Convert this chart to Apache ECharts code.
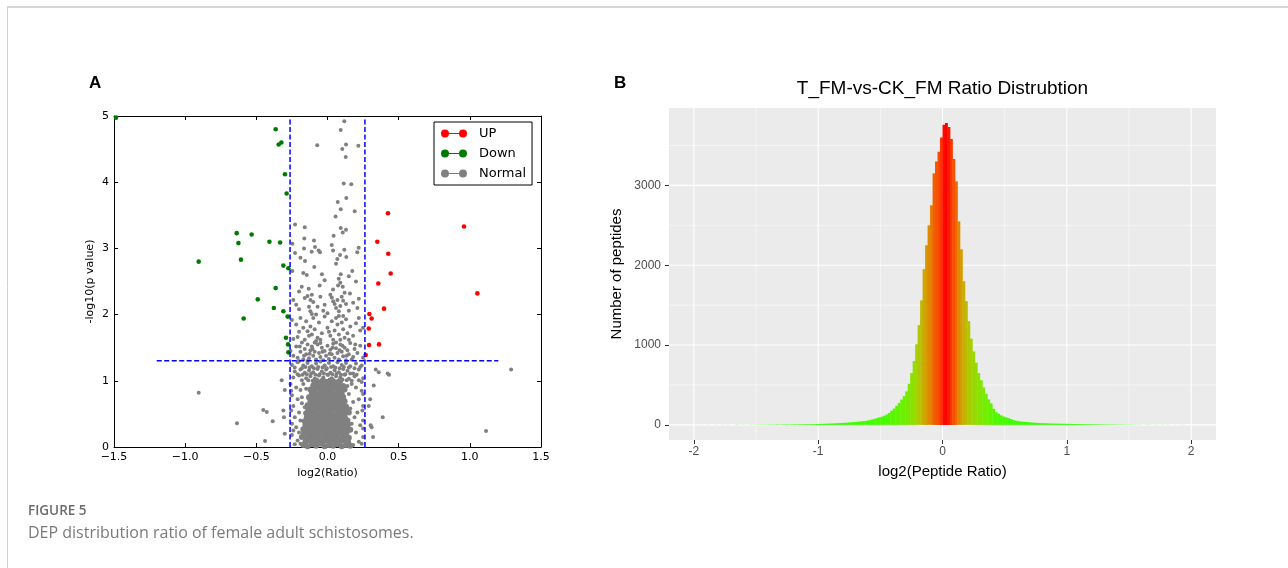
<!DOCTYPE html>
<html>
<head>
<meta charset="utf-8">
<title>Figure 5</title>
<script src="https://cdn.jsdelivr.net/npm/echarts@6/dist/echarts.min.js"></script>
<style>
  html, body { margin: 0; padding: 0; background: #fff; }
  #chart { width: 1288px; height: 568px; }
</style>
</head>
<body>
<div id="chart"></div>
<script>
// ---- panel A: volcano plot ----
var upPoints = [[0.425,3.53],[0.959,3.33],[0.35,3.10],[0.427,2.92],[0.444,2.62],[0.357,2.47],[1.053,2.32],
  [0.397,2.09],[0.294,2.01],[0.31,1.94],[0.29,1.79],[0.292,1.54],[0.362,1.55],[0.268,1.39]];

var downPoints = [[-1.486,4.975],[-0.364,4.80],[-0.343,4.57],[-0.324,4.60],[-0.299,4.12],[-0.287,3.83],
  [-0.638,3.23],[-0.533,3.21],[-0.626,3.08],[-0.408,3.10],[-0.333,3.09],[-0.905,2.80],[-0.608,2.83],
  [-0.31,2.74],[-0.275,2.70],[-0.364,2.40],[-0.49,2.23],[-0.377,2.10],[-0.31,2.05],[-0.28,1.97],
  [-0.589,1.94],[-0.292,1.65],[-0.277,1.55],[-0.275,1.43]];

// scattered grey points outside the cut-off lines
var normalSparse = [[-0.905,0.82],[-0.636,0.36],[-0.451,0.56],[-0.427,0.53],[-0.385,0.39],[-0.439,0.09],
  [-0.322,1.01],[1.29,1.17],[1.114,0.24],[0.388,0.45],[0.339,1.17],[0.36,1.13],[0.423,1.11],[0.432,1.09],
  [0.325,0.93],[0.303,0.33],[0.31,0.30],[-0.31,0.55],[-0.306,0.45],[-0.30,0.20],[0.30,0.72],[0.29,0.62],
  [0.32,0.15],[-0.30,0.86]];

// grey points above y = 2.3
var normalUpper = [[0.118,4.92],[0.093,4.79],[-0.072,4.56],[0.13,4.57],[0.104,4.50],[0.217,4.55],[0.128,4.38],
  [0.114,3.98],[0.167,3.97],[0.132,3.76],[0.072,3.70],[0.093,3.59],[0.191,3.56],[0.057,3.48],[-0.228,3.36],
  [-0.16,3.32],[0.093,3.31],[0.13,3.28],[0.043,3.19],[0.107,3.24],[-0.163,3.15],[-0.095,3.12],[-0.247,3.07],
  [-0.165,3.00],[-0.088,3.02],[-0.228,2.93],[-0.111,2.95],[-0.053,2.94],[-0.062,2.97],[0.039,2.97],
  [0.118,2.98],[0.132,2.87],[0.219,3.01],[0.209,2.94],[0.088,2.90],[0.069,2.84],[0.06,2.77],[-0.158,2.81],
  [-0.093,2.72],[0.174,2.66],[-0.17,2.63],[-0.146,2.60],[-0.039,2.61],[0.093,2.61],[0.079,2.54],[0.09,2.48],
  [0.074,2.44],[-0.181,2.42],[-0.132,2.39],[-0.055,2.44],[0.039,2.38],[0.107,2.42],[0.158,2.32],[-0.2,2.35],
  [-0.11,2.30],[0.02,2.30],[0.12,2.33],[-0.247,2.66],[0.2,2.5],[-0.02,2.52],[0.15,2.58],[0.03,3.05],[-0.19,2.86]];

// grey points between y = 1.0 and 2.3
var normalMiddle = [[-0.24,2.22],[-0.14,2.28],[-0.16,2.25],[-0.12,2.22],[-0.10,2.19],[-0.05,2.27],[-0.13,2.12],
  [-0.12,2.05],[-0.11,2.01],[-0.08,2.00],[-0.20,2.08],[-0.02,2.15],[0.03,2.26],[0.04,2.20],[0.05,2.16],
  [0.07,2.22],[0.06,2.10],[0.09,2.13],[0.10,2.27],[0.11,2.21],[0.13,2.16],[0.08,2.05],[0.15,2.06],[0.22,2.24],
  [0.21,2.10],[-0.22,2.15],[-0.03,2.06],[0.00,2.02],[0.18,2.18],[-0.07,2.12],
  [-0.25,1.92],[-0.22,1.85],[-0.19,1.95],[-0.17,1.80],[-0.15,1.90],[-0.14,1.75],[-0.12,1.82],[-0.11,1.70],
  [-0.10,1.95],[-0.09,1.78],[-0.07,1.65],[-0.06,1.88],[-0.04,1.72],[-0.02,1.97],[0.00,1.80],[0.02,1.68],
  [0.03,1.90],[0.05,1.76],[0.06,1.95],[0.07,1.85],[0.08,1.70],[0.09,1.62],[0.10,1.88],[0.11,1.78],[0.12,1.65],
  [0.13,1.93],[0.14,1.72],[0.16,1.82],[0.18,1.68],[0.20,1.87],[0.23,1.76],[0.25,1.80],[-0.21,1.66],[-0.16,1.62],
  [-0.13,1.68],[-0.08,1.60],[0.04,1.62],[0.08,1.98],[-0.20,1.74],[0.15,1.62],[-0.24,1.63],[0.22,1.95],
  [0.01,1.74],[-0.05,1.62],[0.11,1.98],
  [-0.26,1.45],[-0.24,1.38],[-0.22,1.52],[-0.21,1.35],[-0.19,1.44],[-0.18,1.58],[-0.17,1.32],[-0.16,1.48],
  [-0.15,1.40],[-0.14,1.55],[-0.13,1.34],[-0.12,1.46],[-0.11,1.52],[-0.10,1.38],[-0.09,1.44],[-0.08,1.32],
  [-0.07,1.55],[-0.06,1.42],[-0.05,1.36],[-0.04,1.50],[-0.03,1.31],[-0.02,1.45],[-0.01,1.38],[0.00,1.53],
  [0.01,1.33],[0.02,1.47],[0.03,1.40],[0.04,1.56],[0.05,1.35],[0.06,1.49],[0.07,1.42],[0.08,1.32],[0.09,1.55],
  [0.10,1.44],[0.11,1.37],[0.12,1.50],[0.13,1.31],[0.14,1.46],[0.15,1.40],[0.16,1.57],[0.18,1.36],[0.19,1.48],
  [0.21,1.42],[0.23,1.53],[0.25,1.35],[-0.20,1.30],[0.06,1.58],[-0.09,1.58],[0.17,1.32],[-0.14,1.30],
  [-0.195,1.52],[-0.105,1.48],[-0.035,1.44],[0.035,1.50],[0.085,1.46],[0.135,1.38],[-0.165,1.38],[0.195,1.55],
  [-0.05,1.57],[0.015,1.41],[0.105,1.53],[-0.125,1.41],
  [-0.25,1.24],[-0.21,1.28],[-0.17,1.23],[-0.14,1.27],[-0.11,1.22],[-0.08,1.26],[-0.05,1.29],[-0.02,1.23],
  [0.01,1.27],[0.04,1.22],[0.07,1.28],[0.10,1.24],[0.13,1.27],[0.16,1.22],[0.20,1.26],[0.24,1.23],
  [-0.23,1.20],[-0.18,1.19],[-0.155,1.21],[-0.125,1.20],[-0.095,1.19],[-0.065,1.21],[-0.035,1.20],[-0.005,1.19],
  [0.025,1.21],[0.055,1.20],[0.085,1.19],[0.115,1.21],[0.15,1.20],[0.19,1.19],[0.23,1.21],
  [-0.23,1.14],[-0.19,1.17],[-0.16,1.12],[-0.13,1.16],[-0.10,1.13],[-0.07,1.18],[-0.04,1.14],[-0.01,1.17],
  [0.02,1.12],[0.05,1.16],[0.08,1.13],[0.11,1.18],[0.14,1.15],[0.18,1.11],[0.22,1.17],
  [-0.21,1.10],[-0.175,1.09],[-0.145,1.10],[-0.115,1.11],[-0.085,1.09],[-0.055,1.10],[-0.025,1.11],[0.005,1.09],
  [0.035,1.10],[0.065,1.11],[0.095,1.09],[0.125,1.10],[0.16,1.11],[0.205,1.09],
  [-0.24,1.05],[-0.20,1.08],[-0.15,1.04],[-0.12,1.07],[-0.09,1.03],[-0.06,1.08],[-0.03,1.05],[0.00,1.09],
  [0.03,1.04],[0.06,1.07],[0.09,1.05],[0.12,1.09],[0.15,1.03],[0.19,1.07],[0.25,1.04],
  [-0.18,1.01],[-0.135,1.01],[-0.105,1.00],[-0.075,1.02],[-0.045,1.01],[-0.015,1.00],[0.015,1.02],[0.045,1.01],
  [0.075,1.00],[0.105,1.02],[0.135,1.01],[0.17,1.00],[0.22,1.01]];

// dense grey mass below y = 1
var normalCore = [
  [-0.17,0.03],[-0.14,0.01],[-0.11,0.04],[-0.08,0.02],[-0.05,0.05],[-0.02,0.01],[0.01,0.03],[0.04,0.02],[0.07,0.04],[0.10,0.01],[0.13,0.03],[0.16,0.02],
  [-0.155,0.08],[-0.125,0.10],[-0.095,0.07],[-0.065,0.09],[-0.035,0.08],[-0.005,0.10],[0.025,0.07],[0.055,0.09],[0.085,0.08],[0.115,0.10],[0.145,0.07],
  [-0.18,0.15],[-0.15,0.13],[-0.12,0.16],[-0.09,0.14],[-0.06,0.15],[-0.03,0.13],[0.00,0.16],[0.03,0.14],[0.06,0.15],[0.09,0.13],[0.12,0.16],[0.15,0.14],
  [-0.165,0.21],[-0.135,0.19],[-0.105,0.22],[-0.075,0.20],[-0.045,0.21],[-0.015,0.19],[0.015,0.22],[0.045,0.20],[0.075,0.21],[0.105,0.19],[0.135,0.22],
  [-0.17,0.27],[-0.14,0.25],[-0.11,0.28],[-0.08,0.26],[-0.05,0.27],[-0.02,0.25],[0.01,0.28],[0.04,0.26],[0.07,0.27],[0.10,0.25],[0.13,0.28],[0.16,0.26],
  [-0.155,0.33],[-0.125,0.31],[-0.095,0.34],[-0.065,0.32],[-0.035,0.33],[-0.005,0.31],[0.025,0.34],[0.055,0.32],[0.085,0.33],[0.115,0.31],[0.145,0.34],
  [-0.16,0.39],[-0.13,0.37],[-0.10,0.40],[-0.07,0.38],[-0.04,0.39],[-0.01,0.37],[0.02,0.40],[0.05,0.38],[0.08,0.39],[0.11,0.37],[0.14,0.40],
  [-0.145,0.45],[-0.115,0.43],[-0.085,0.46],[-0.055,0.44],[-0.025,0.45],[0.005,0.43],[0.035,0.46],[0.065,0.44],[0.095,0.45],[0.125,0.43],
  [-0.15,0.51],[-0.12,0.49],[-0.09,0.52],[-0.06,0.50],[-0.03,0.51],[0.00,0.49],[0.03,0.52],[0.06,0.50],[0.09,0.51],[0.12,0.49],[0.15,0.52],
  [-0.135,0.57],[-0.105,0.55],[-0.075,0.58],[-0.045,0.56],[-0.015,0.57],[0.015,0.55],[0.045,0.58],[0.075,0.56],[0.105,0.57],[0.135,0.55],
  [-0.14,0.63],[-0.11,0.61],[-0.08,0.64],[-0.05,0.62],[-0.02,0.63],[0.01,0.61],[0.04,0.64],[0.07,0.62],[0.10,0.63],[0.13,0.61],
  [-0.12,0.69],[-0.09,0.67],[-0.06,0.70],[-0.03,0.68],[0.00,0.69],[0.03,0.67],[0.06,0.70],[0.09,0.68],[0.12,0.69],
  [-0.13,0.75],[-0.10,0.73],[-0.07,0.76],[-0.04,0.74],[-0.01,0.75],[0.02,0.73],[0.05,0.76],[0.08,0.74],[0.11,0.75],
  [-0.11,0.81],[-0.08,0.79],[-0.05,0.82],[-0.02,0.80],[0.01,0.81],[0.04,0.79],[0.07,0.82],[0.10,0.80],
  [-0.12,0.87],[-0.09,0.85],[-0.06,0.88],[-0.03,0.86],[0.00,0.87],[0.03,0.85],[0.06,0.88],[0.09,0.86],[0.12,0.87],
  [-0.10,0.93],[-0.07,0.91],[-0.04,0.94],[-0.01,0.92],[0.02,0.93],[0.05,0.91],[0.08,0.94],[0.11,0.92],
  [-0.09,0.99],[-0.06,0.97],[-0.03,1.00],[0.00,0.98],[0.03,0.99],[0.06,0.97],[0.09,1.00]];

// grey points at the edge of the mass, inside the lines
var normalFringe = [[-0.26,0.95],[-0.22,0.90],[-0.19,0.86],[-0.25,0.78],[-0.21,0.72],[-0.18,0.66],[-0.24,0.62],
  [-0.255,0.55],[-0.20,0.52],[-0.23,0.45],[-0.19,0.40],[-0.25,0.35],[-0.22,0.30],[-0.20,0.22],[-0.25,0.18],
  [-0.21,0.10],[-0.23,0.04],[-0.18,0.75],[-0.17,0.95],[-0.15,0.88],[-0.16,0.60],[-0.19,0.05],[-0.24,0.25],
  [-0.255,0.85],[0.17,0.95],[0.20,0.90],[0.24,0.85],[0.25,0.80],[0.22,0.72],[0.18,0.68],[0.25,0.62],
  [0.245,0.55],[0.21,0.52],[0.19,0.45],[0.25,0.40],[0.23,0.33],[0.25,0.28],[0.20,0.22],[0.25,0.15],[0.22,0.08],
  [0.18,0.03],[0.24,0.05],[0.15,0.80],[0.16,0.58],[0.17,0.35],[0.14,0.92],[0.24,0.98]];

var normalPoints = normalSparse.concat(normalUpper, normalMiddle, normalFringe);

// cut-off lines: |log2 ratio| = log2(1.2), p = 0.05
var cutLeft = [[-0.263, 0], [-0.263, 4.95]];
var cutRight = [[0.263, 0], [0.263, 4.95]];
var cutP = [[-1.2, 1.301], [1.2, 1.301]];

// ---- panel B: histogram of log2(peptide ratio), bins of 0.02 from -2 ----
var binStart = -2.0;
var binWidth = 0.02;
var peptideCounts = [
  1,0,1,0,0,1,0,0,1,0, 0,1,0,1,0,0,1,2,0,1, 1,0,2,1,2,
  2,3,2,3,3,4,3,4,5,4, 5,5,6,5,6,7,6,8,7,8, 9,8,10,9,11,
  12,13,14,15,16,18,19,20,22,24, 25,28,30,33,36,39,42,45,48,52,
  58,66,75,84,94,102,115,130,150,178, 205,240,275,318,360,420,515,650,800,1010,
  1250,1560,1950,2250,2500,2750,3150,3300,3420,3600,
  3760,3780,3730,3580,3330,3050,2550,2200,1800,1550,
  1300,1080,920,780,650,560,470,390,320,270, 200,160,140,120,105,95,85,72,60,52,
  46,42,40,37,34,31,28,26,24,22, 21,20,19,18,17,16,15,15,14,14,
  13,12,11,11,10,10,9,9,8,8, 8,7,7,6,6,5,5,4,5,4, 3,4,3,3,2,
  3,2,2,1,2,0,1,2,1,0, 1,1,0,2,0,1,0,0,1,0, 0,1,0,0,0];

var bTicksX = [-2, -1, 0, 1, 2];
var bTicksY = [0, 1000, 2000, 3000];
var bMinorX = [-1.5, -0.5, 0.5, 1.5];
var bMinorY = [500, 1500, 2500, 3500];
var bXMin = -2.2, bXMax = 2.2, bYMin = -189, bYMax = 3969;

// green -> red gradient interpolated in Lab, like ggplot's scale_fill_gradient
function toLinear(c) { c = c / 255; return c <= 0.04045 ? c / 12.92 : Math.pow((c + 0.055) / 1.055, 2.4); }
function toByte(c) { c = c <= 0.0031308 ? 12.92 * c : 1.055 * Math.pow(c, 1 / 2.4) - 0.055; return Math.max(0, Math.min(255, Math.round(c * 255))); }
function hexToLab(hex) {
  var r = toLinear(parseInt(hex.substr(1, 2), 16)), g = toLinear(parseInt(hex.substr(3, 2), 16)), b = toLinear(parseInt(hex.substr(5, 2), 16));
  var X = (0.4124 * r + 0.3576 * g + 0.1805 * b) / 0.95047;
  var Y = 0.2126 * r + 0.7152 * g + 0.0722 * b;
  var Z = (0.0193 * r + 0.1192 * g + 0.9505 * b) / 1.08883;
  var f = function (t) { return t > 0.008856 ? Math.cbrt(t) : 7.787 * t + 16 / 116; };
  return [116 * f(Y) - 16, 500 * (f(X) - f(Y)), 200 * (f(Y) - f(Z))];
}
function labToHex(lab) {
  var fy = (lab[0] + 16) / 116, fx = fy + lab[1] / 500, fz = fy - lab[2] / 200;
  var inv = function (t) { return t > 0.206893 ? t * t * t : (t - 16 / 116) / 7.787; };
  var X = inv(fx) * 0.95047, Y = inv(fy), Z = inv(fz) * 1.08883;
  var r = 3.2406 * X - 1.5372 * Y - 0.4986 * Z;
  var g = -0.9689 * X + 1.8758 * Y + 0.0415 * Z;
  var b = 0.0557 * X - 0.2040 * Y + 1.0570 * Z;
  return 'rgb(' + toByte(r) + ',' + toByte(g) + ',' + toByte(b) + ')';
}
var lowLab = hexToLab('#30FF00'), highLab = hexToLab('#FF0000');
var maxCount = Math.max.apply(null, peptideCounts);
function countColor(c) {
  var t = c / maxCount;
  return labToHex([0, 1, 2].map(function (k) { return lowLab[k] + (highLab[k] - lowLab[k]) * t; }));
}

var histData = peptideCounts.map(function (c, i) {
  return [binStart + i * binWidth, binStart + (i + 1) * binWidth, c];
});
var vGrid = bTicksX.map(function (v) { return [v, 1.1]; }).concat(bMinorX.map(function (v) { return [v, 0.55]; }));
var hGrid = bTicksY.map(function (v) { return [v, 1.1]; }).concat(bMinorY.map(function (v) { return [v, 0.55]; }));

var chart = echarts.init(document.getElementById('chart'));

var mplFont = 'DejaVu Sans';
var ggFont = 'Liberation Sans';
var mplTick = { show: true, inside: true, length: 4, lineStyle: { color: '#000', width: 1 } };
var mplLine = { show: true, onZero: false, lineStyle: { color: '#000', width: 1 } };

var option = {
  animation: false,
  backgroundColor: '#fff',
  grid: [
    { left: 114, top: 116, width: 427, height: 331, containLabel: false, show: false },
    { left: 669, top: 108, width: 547, height: 332, containLabel: false, show: true,
      backgroundColor: '#EBEBEB', borderWidth: 0 }
  ],
  xAxis: [
    { type: 'value', gridIndex: 0, position: 'bottom', min: -1.5, max: 1.5, interval: 0.5,
      axisLine: mplLine, axisTick: mplTick, splitLine: { show: false },
      axisLabel: { color: '#000', fontFamily: mplFont, fontSize: 11, margin: 5, showMinLabel: true, showMaxLabel: true,
        formatter: function (v) { return (v < 0 ? '\u2212' : '') + Math.abs(v).toFixed(1); } },
      name: 'log2(Ratio)', nameLocation: 'middle', nameGap: 20,
      nameTextStyle: { color: '#000', fontFamily: mplFont, fontSize: 11 } },
    { type: 'value', gridIndex: 0, position: 'top', min: -1.5, max: 1.5, interval: 0.5,
      axisLine: mplLine, axisTick: mplTick, axisLabel: { show: false }, splitLine: { show: false } },
    { type: 'value', gridIndex: 1, min: bXMin, max: bXMax,
      axisLine: { show: false, onZero: false },
      axisTick: { show: true, length: 4, lineStyle: { color: '#333', width: 1 }, customValues: bTicksX },
      axisLabel: { color: '#4D4D4D', fontFamily: ggFont, fontSize: 12, margin: 6, customValues: bTicksX,
        formatter: function (v) { return String(v); } },
      splitLine: { show: false },
      name: 'log2(Peptide Ratio)', nameLocation: 'middle', nameGap: 24,
      nameTextStyle: { color: '#000', fontFamily: ggFont, fontSize: 15 } }
  ],
  yAxis: [
    { type: 'value', gridIndex: 0, position: 'left', min: 0, max: 5, interval: 1,
      axisLine: mplLine, axisTick: mplTick, splitLine: { show: false },
      axisLabel: { color: '#000', fontFamily: mplFont, fontSize: 11, margin: 5, showMinLabel: true, showMaxLabel: true },
      name: '-log10(p value)', nameLocation: 'middle', nameGap: 18,
      nameTextStyle: { color: '#000', fontFamily: mplFont, fontSize: 11 } },
    { type: 'value', gridIndex: 0, position: 'right', min: 0, max: 5, interval: 1,
      axisLine: mplLine, axisTick: mplTick, axisLabel: { show: false }, splitLine: { show: false } },
    { type: 'value', gridIndex: 1, min: bYMin, max: bYMax,
      axisLine: { show: false, onZero: false },
      axisTick: { show: true, length: 4, lineStyle: { color: '#333', width: 1 }, customValues: bTicksY },
      axisLabel: { color: '#4D4D4D', fontFamily: ggFont, fontSize: 12, margin: 8, customValues: bTicksY,
        formatter: function (v) { return String(v); } },
      splitLine: { show: false },
      name: 'Number of peptides', nameLocation: 'middle', nameGap: 45,
      nameTextStyle: { color: '#000', fontFamily: ggFont, fontSize: 15 } }
  ],
  legend: {
    data: ['UP', 'Down', 'Normal'],
    orient: 'vertical',
    left: 434, top: 122,
    padding: [5, 6, 5, 7],
    itemGap: 7,
    itemWidth: 26, itemHeight: 8,
    icon: 'path://M0,4A4,4,0,1,1,8,4A4,4,0,1,1,0,4ZM18,4A4,4,0,1,1,26,4A4,4,0,1,1,18,4ZM4,3.5L22,3.5L22,4.5L4,4.5Z',
    backgroundColor: '#fff', borderColor: '#000', borderWidth: 1, borderRadius: 0,
    selectedMode: false,
    textStyle: { color: '#000', fontFamily: mplFont, fontSize: 13, lineHeight: 13, padding: [0, 0, 0, 7] }
  },
  series: [
    { name: 'Normal', type: 'scatter', xAxisIndex: 0, yAxisIndex: 0, data: normalPoints,
      symbolSize: 4, itemStyle: { color: '#808080', opacity: 1 }, silent: true, z: 2 },
    { name: 'Normal', type: 'scatter', xAxisIndex: 0, yAxisIndex: 0, data: normalCore,
      symbolSize: 6, itemStyle: { color: '#808080', opacity: 1 }, silent: true, z: 2 },
    { name: 'Down', type: 'scatter', xAxisIndex: 0, yAxisIndex: 0, data: downPoints,
      symbolSize: 4.6, itemStyle: { color: '#007A00', opacity: 1 }, silent: true, z: 3 },
    { name: 'UP', type: 'scatter', xAxisIndex: 0, yAxisIndex: 0, data: upPoints,
      symbolSize: 4.6, itemStyle: { color: '#FF0000', opacity: 1 }, silent: true, z: 3 },
    { type: 'line', xAxisIndex: 0, yAxisIndex: 0, data: cutLeft, symbol: 'none', silent: true, z: 4,
      lineStyle: { color: '#0000FF', width: 1.5, type: [5, 2.5] } },
    { type: 'line', xAxisIndex: 0, yAxisIndex: 0, data: cutRight, symbol: 'none', silent: true, z: 4,
      lineStyle: { color: '#0000FF', width: 1.5, type: [5, 2.5] } },
    { type: 'line', xAxisIndex: 0, yAxisIndex: 0, data: cutP, symbol: 'none', silent: true, z: 4,
      lineStyle: { color: '#0000FF', width: 1.5, type: [5, 2.5] } },
    // panel B grid lines
    { type: 'custom', xAxisIndex: 2, yAxisIndex: 2, data: vGrid, silent: true, z: 1,
      renderItem: function (params, api) {
        var v = api.value(0), w = api.value(1);
        var p0 = api.coord([v, bYMin]), p1 = api.coord([v, bYMax]);
        return { type: 'line', shape: { x1: p0[0], y1: p0[1], x2: p1[0], y2: p1[1] },
          style: { stroke: '#FFFFFF', lineWidth: w } };
      } },
    { type: 'custom', xAxisIndex: 2, yAxisIndex: 2, data: hGrid, silent: true, z: 1,
      renderItem: function (params, api) {
        var v = api.value(0), w = api.value(1);
        var p0 = api.coord([bXMin, v]), p1 = api.coord([bXMax, v]);
        return { type: 'line', shape: { x1: p0[0], y1: p0[1], x2: p1[0], y2: p1[1] },
          style: { stroke: '#FFFFFF', lineWidth: w } };
      } },
    // histogram bars
    { type: 'custom', xAxisIndex: 2, yAxisIndex: 2, data: histData, silent: true, z: 3,
      encode: { x: [0, 1], y: 2 },
      renderItem: function (params, api) {
        var c = api.value(2);
        if (!c) return null;
        var p0 = api.coord([api.value(0), c]), p1 = api.coord([api.value(1), 0]);
        return { type: 'rect',
          shape: { x: p0[0], y: p0[1], width: p1[0] - p0[0] + 0.4, height: p1[1] - p0[1] },
          style: { fill: countColor(c) } };
      } }
  ],
  graphic: [
    { type: 'line', silent: true, shape: { x1: 7, y1: 7, x2: 1288, y2: 7 }, style: { stroke: '#D6D6D6', lineWidth: 2 } },
    { type: 'line', silent: true, shape: { x1: 7.5, y1: 7, x2: 7.5, y2: 568 }, style: { stroke: '#CFCFCF', lineWidth: 1 } },
    { type: 'text', silent: true, style: { x: 89, y: 83, text: 'A', font: 'bold 17px "Liberation Sans"', fill: '#000',
      textAlign: 'left', textVerticalAlign: 'middle' } },
    { type: 'text', silent: true, style: { x: 614, y: 83, text: 'B', font: 'bold 17px "Liberation Sans"', fill: '#000',
      textAlign: 'left', textVerticalAlign: 'middle' } },
    { type: 'text', silent: true, style: { x: 942.5, y: 89, text: 'T_FM-vs-CK_FM Ratio Distrubtion',
      font: '19px "Liberation Sans"', fill: '#000', textAlign: 'center', textVerticalAlign: 'middle' } },
    { type: 'text', silent: true, style: { x: 28, y: 511, text: 'FIGURE 5', font: '600 13.5px "Open Sans"', fill: '#6B6B6B',
      textAlign: 'left', textVerticalAlign: 'middle' } },
    { type: 'text', silent: true, style: { x: 28, y: 533, text: 'DEP distribution ratio of female adult schistosomes.',
      font: '16px "Open Sans"', fill: '#7A7A7A', textAlign: 'left', textVerticalAlign: 'middle' } }
  ]
};

chart.setOption(option);
</script>
</body>
</html>
